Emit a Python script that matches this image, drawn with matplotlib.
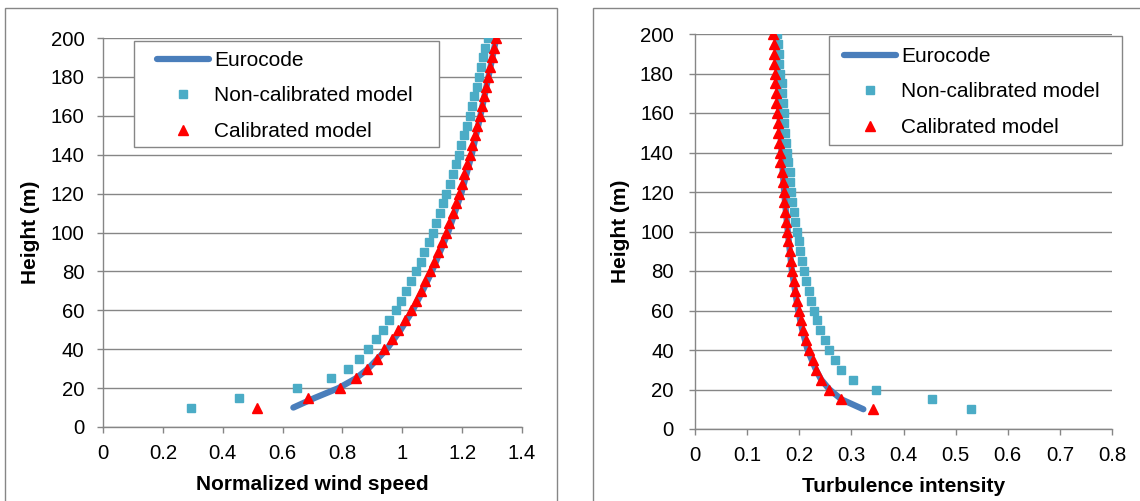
import matplotlib
matplotlib.use("Agg")
import matplotlib.pyplot as plt
from matplotlib.lines import Line2D
from matplotlib.patches import Rectangle

plt.rcParams['font.family'] = ['Liberation Sans', 'DejaVu Sans']

# ---------------- data ----------------
heights = [10, 15, 20, 25, 30, 35, 40, 45, 50, 55, 60, 65, 70, 75, 80, 85, 90, 95,
           100, 105, 110, 115, 120, 125, 130, 135, 140, 145, 150, 155, 160, 165,
           170, 175, 180, 185, 190, 195, 200]

# Normalized wind speed
ws_noncal = [0.295, 0.454, 0.649, 0.761, 0.820, 0.855, 0.884, 0.911, 0.936, 0.957,
             0.978, 0.996, 1.013, 1.030, 1.045, 1.061, 1.074, 1.088, 1.101, 1.114,
             1.126, 1.136, 1.147, 1.158, 1.169, 1.178, 1.188, 1.197, 1.207, 1.216,
             1.225, 1.233, 1.241, 1.250, 1.257, 1.264, 1.271, 1.278, 1.287]
ws_cal = [0.515, 0.686, 0.792, 0.845, 0.883, 0.914, 0.940, 0.966, 0.986, 1.009,
          1.028, 1.045, 1.061, 1.077, 1.093, 1.107, 1.120, 1.133, 1.145, 1.157,
          1.169, 1.178, 1.189, 1.198, 1.207, 1.216, 1.226, 1.234, 1.243, 1.250,
          1.258, 1.265, 1.274, 1.280, 1.287, 1.293, 1.300, 1.306, 1.312]
euro_heights = [10, 15, 20, 25, 30, 40, 50, 60, 70, 80, 90, 100, 120, 140, 160, 180, 200]
ws_euro = [0.636, 0.708, 0.787, 0.845, 0.886, 0.948, 0.995, 1.035, 1.068, 1.099,
           1.126, 1.153, 1.197, 1.232, 1.261, 1.288, 1.314]

# Turbulence intensity
ti_noncal = [0.529, 0.455, 0.348, 0.304, 0.281, 0.268, 0.258, 0.249, 0.240, 0.234,
             0.228, 0.223, 0.218, 0.213, 0.209, 0.205, 0.202, 0.199, 0.196, 0.192,
             0.190, 0.187, 0.185, 0.183, 0.182, 0.179, 0.177, 0.175, 0.173, 0.171,
             0.170, 0.168, 0.167, 0.166, 0.164, 0.162, 0.161, 0.160, 0.158]
ti_cal = [0.341, 0.280, 0.258, 0.242, 0.233, 0.226, 0.219, 0.212, 0.208, 0.204,
          0.200, 0.196, 0.192, 0.189, 0.186, 0.184, 0.182, 0.179, 0.177, 0.175,
          0.173, 0.171, 0.170, 0.168, 0.166, 0.164, 0.163, 0.162, 0.160, 0.159,
          0.158, 0.156, 0.155, 0.154, 0.153, 0.152, 0.151, 0.151, 0.150]
ti_euro = [0.323, 0.281, 0.258, 0.242, 0.232, 0.216, 0.206, 0.198, 0.192, 0.186,
           0.182, 0.178, 0.171, 0.166, 0.162, 0.159, 0.157]

series_labels = ["Eurocode", "Non-calibrated model", "Calibrated model"]
y_ticks = [0, 20, 40, 60, 80, 100, 120, 140, 160, 180, 200]
ws_ticks = [0, 0.2, 0.4, 0.6, 0.8, 1.0, 1.2, 1.4]
ws_ticklabels = ["0", "0.2", "0.4", "0.6", "0.8", "1", "1.2", "1.4"]
ti_ticks = [0, 0.1, 0.2, 0.3, 0.4, 0.5, 0.6, 0.7, 0.8]
ti_ticklabels = ["0", "0.1", "0.2", "0.3", "0.4", "0.5", "0.6", "0.7", "0.8"]

# ---------------- style ----------------
W, H = 1140, 501
EURO_C = '#4A7EBB'
NONCAL_C = '#4BACC6'
CAL_C = '#FF0000'
GRID_C = '#868686'
TICK_FS = 14.7
LEG_FS = 15.0
LAB_FS = 15.0
SQ_MS = 5.6
TRI_MS = 6.6

fig = plt.figure(figsize=(W / 100, H / 100), dpi=100)
fig.patch.set_facecolor('white')

# chart-area frames
fig.add_artist(Rectangle((5 / W, 1 - 520 / H), 552 / W, 512 / H, transform=fig.transFigure,
                         fc='none', ec=GRID_C, lw=1.0))
fig.add_artist(Rectangle((593 / W, 1 - 520 / H), 600 / W, 512 / H, transform=fig.transFigure,
                         fc='none', ec=GRID_C, lw=1.0))


def make_axes(px_left, px_right, px_top, px_bottom):
    return fig.add_axes([px_left / W, 1 - px_bottom / H, (px_right - px_left) / W,
                         (px_bottom - px_top) / H])


def style_axes(ax, xlim, xticks, xticklabels, xlabel, ylabel_x, xlabel_y, ypad):
    ax.set_xlim(*xlim)
    ax.set_ylim(0, 200)
    ax.set_xticks(xticks)
    ax.set_xticklabels(xticklabels)
    ax.set_yticks(y_ticks)
    ax.set_axisbelow(True)
    ax.grid(axis='y', color=GRID_C, lw=1.0)
    ax.grid(axis='x', visible=False)
    for s in ['top', 'right']:
        ax.spines[s].set_visible(False)
    for s in ['left', 'bottom']:
        ax.spines[s].set_color(GRID_C)
        ax.spines[s].set_linewidth(1.0)
    ax.tick_params(axis='both', direction='out', length=4.3, width=1.0, color=GRID_C,
                   labelsize=TICK_FS, labelcolor='black')
    ax.tick_params(axis='x', pad=8.0)
    ax.tick_params(axis='y', pad=ypad)
    ax.set_xlabel(xlabel, fontsize=LAB_FS, fontweight='bold', va='center')
    ax.set_ylabel("Height (m)", fontsize=LAB_FS, fontweight='bold', va='center')
    ax.xaxis.set_label_coords(0.5, xlabel_y)
    ax.yaxis.set_label_coords(ylabel_x, 0.5)


def add_series(ax, xe, xn, xc):
    ax.plot(xe, euro_heights, color=EURO_C, lw=4.5, solid_capstyle='round', zorder=2)
    ax.plot(xn, heights, ls='none', marker='s', ms=SQ_MS, color=NONCAL_C, mec=NONCAL_C, zorder=3)
    ax.plot(xc, heights, ls='none', marker='^', ms=TRI_MS, color=CAL_C, mec=CAL_C, zorder=3)


def add_legend(ax, box, anchor):
    ax.add_patch(Rectangle((box[0], box[1]), box[2] - box[0], box[3] - box[1],
                           transform=ax.transAxes, fc='white', ec=GRID_C, lw=1.0,
                           zorder=4, clip_on=False))
    handles = [
        Line2D([], [], color=EURO_C, lw=4.5, solid_capstyle='round'),
        Line2D([], [], ls='none', marker='s', ms=SQ_MS, color=NONCAL_C),
        Line2D([], [], ls='none', marker='^', ms=TRI_MS, color=CAL_C),
    ]
    leg = ax.legend(handles, series_labels, loc='upper left', bbox_to_anchor=anchor,
                    bbox_transform=ax.transAxes, frameon=False, fontsize=LEG_FS,
                    borderpad=0, borderaxespad=0, handlelength=2.5, handletextpad=0.24,
                    labelspacing=0.79)
    leg.set_zorder(5)


# ---------- left panel ----------
ax1 = make_axes(103, 522, 38, 427)
add_series(ax1, ws_euro, ws_noncal, ws_cal)
style_axes(ax1, (0, 1.4), ws_ticks, ws_ticklabels, "Normalized wind speed",
           ylabel_x=(30 - 103) / 419, xlabel_y=(427 - 485) / 389, ypad=9.0)
add_legend(ax1, ((134 - 103) / 419, (427 - 147) / 389, (439 - 103) / 419, (427 - 41) / 389),
           ((157 - 103) / 419, (427 - 51) / 389))

# ---------- right panel ----------
ax2 = make_axes(695, 1112, 34, 429)
add_series(ax2, ti_euro, ti_noncal, ti_cal)
style_axes(ax2, (0, 0.8), ti_ticks, ti_ticklabels, "Turbulence intensity",
           ylabel_x=(621 - 695) / 417, xlabel_y=(429 - 487) / 395, ypad=11.0)
add_legend(ax2, ((829 - 695) / 417, (429 - 145) / 395, (1122 - 695) / 417, (429 - 36) / 395),
           ((844 - 695) / 417, (429 - 47) / 395))

fig.savefig("out.png", dpi=100, facecolor='white')
